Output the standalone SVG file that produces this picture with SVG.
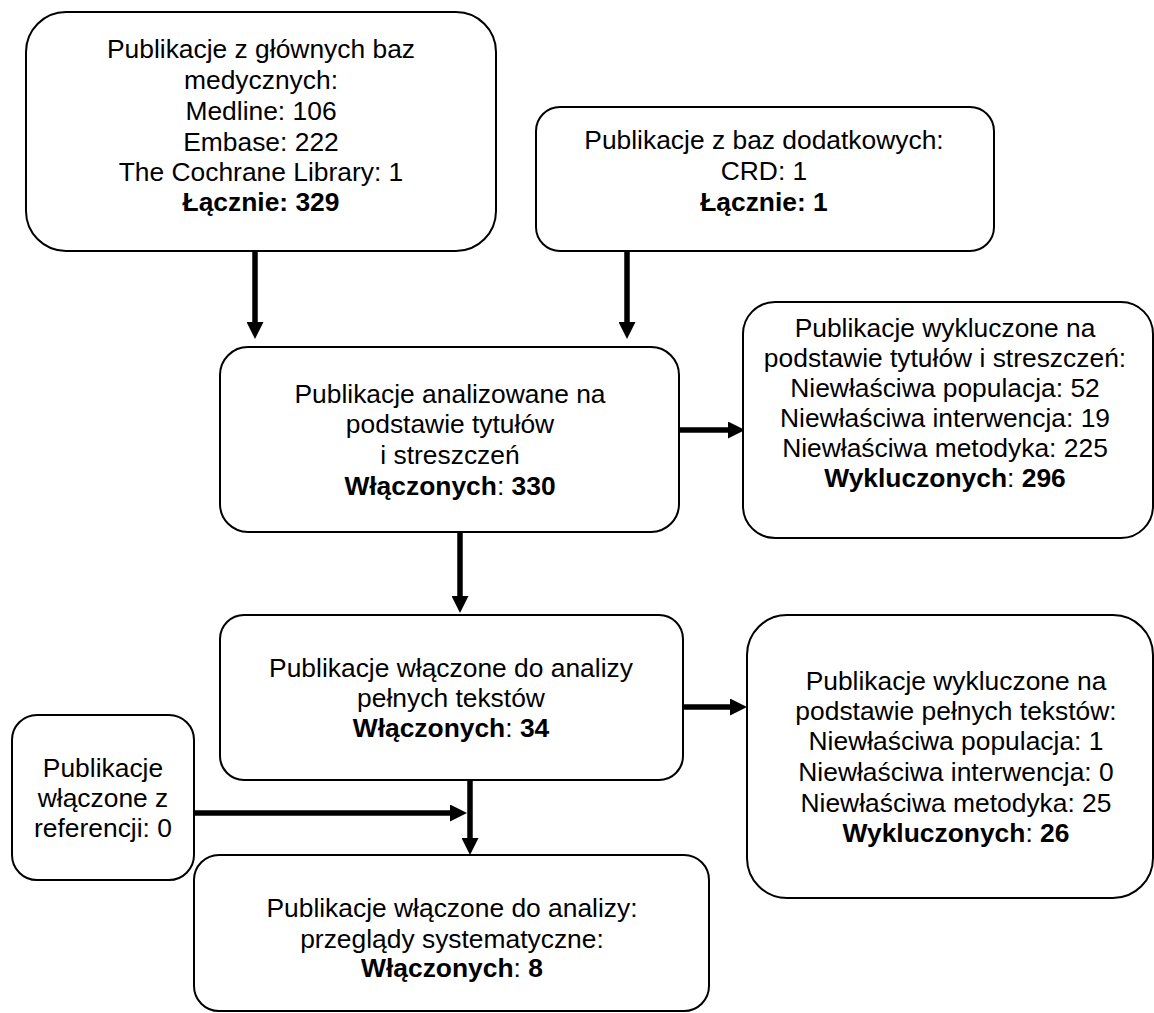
<svg xmlns="http://www.w3.org/2000/svg" width="1154" height="1013" viewBox="0 0 1154 1013">
<style>
.box{fill:#fff;stroke:#000;stroke-width:2}
.t{font-family:"Liberation Sans",Arial,sans-serif;font-size:26.4px;fill:#000;text-anchor:middle}
.b{font-weight:bold}
.c{stroke:#000;stroke-width:5.5;fill:none;marker-end:url(#ah)}
</style>
<defs>
<marker id="ah" markerUnits="userSpaceOnUse" viewBox="0 0 17 17" refX="5" refY="8.5" markerWidth="17" markerHeight="17" orient="auto">
<path d="M0,0 L17,8.5 L0,17 z" fill="#000"/>
</marker>
</defs>
<rect width="1154" height="1013" fill="#fff"/>
<g id="connectors">
<line class="c" x1="255" y1="251" x2="255" y2="327"/>
<line class="c" x1="627" y1="251" x2="627" y2="327"/>
<line class="c" x1="679" y1="430" x2="733" y2="430"/>
<line class="c" x1="460" y1="532" x2="460" y2="601"/>
<line class="c" x1="683" y1="707" x2="735" y2="707"/>
<line class="c" x1="194" y1="813" x2="455" y2="813"/>
<line class="c" x1="470" y1="780" x2="470" y2="843"/>
</g>
<g id="n1">
<rect class="box" x="26" y="12" width="470" height="239" rx="40" ry="40"/>
<text class="t" x="261" y="58">Publikacje z głównych baz</text>
<text class="t" x="261" y="89">medycznych:</text>
<text class="t" x="261" y="120">Medline: 106</text>
<text class="t" x="261" y="151">Embase: 222</text>
<text class="t" x="261" y="181">The Cochrane Library: 1</text>
<text class="t b" x="261" y="211">Łącznie: 329</text>
</g>
<g id="n2">
<rect class="box" x="536" y="107" width="458" height="144" rx="24" ry="24"/>
<text class="t" x="764" y="149">Publikacje z baz dodatkowych:</text>
<text class="t" x="764" y="180">CRD: 1</text>
<text class="t b" x="764" y="211">Łącznie: 1</text>
</g>
<g id="n3">
<rect class="box" x="220" y="347" width="459" height="185" rx="28" ry="28"/>
<text class="t" x="450" y="403">Publikacje analizowane na</text>
<text class="t" x="450" y="433">podstawie tytułów</text>
<text class="t" x="450" y="464">i streszczeń</text>
<text class="t" x="450" y="495"><tspan class="b">Włączonych</tspan>: <tspan class="b">330</tspan></text>
</g>
<g id="n4">
<rect class="box" x="743" y="302" width="410" height="236" rx="32" ry="32"/>
<text class="t" x="945" y="337">Publikacje wykluczone na</text>
<text class="t" x="945" y="367">podstawie tytułów i streszczeń:</text>
<text class="t" x="945" y="397">Niewłaściwa populacja: 52</text>
<text class="t" x="945" y="427">Niewłaściwa interwencja: 19</text>
<text class="t" x="945" y="457">Niewłaściwa metodyka: 225</text>
<text class="t" x="945" y="487"><tspan class="b">Wykluczonych</tspan>: <tspan class="b">296</tspan></text>
</g>
<g id="n5">
<rect class="box" x="220" y="615" width="463" height="165" rx="24" ry="24"/>
<text class="t" x="451" y="677">Publikacje włączone do analizy</text>
<text class="t" x="451" y="707">pełnych tekstów</text>
<text class="t" x="451" y="737"><tspan class="b">Włączonych</tspan>: <tspan class="b">34</tspan></text>
</g>
<g id="n6">
<rect class="box" x="747" y="615" width="406" height="283" rx="40" ry="40"/>
<text class="t" x="956" y="690">Publikacje wykluczone na</text>
<text class="t" x="956" y="720">podstawie pełnych tekstów:</text>
<text class="t" x="956" y="750">Niewłaściwa populacja: 1</text>
<text class="t" x="956" y="781">Niewłaściwa interwencja: 0</text>
<text class="t" x="956" y="812">Niewłaściwa metodyka: 25</text>
<text class="t" x="956" y="842"><tspan class="b">Wykluczonych</tspan>: <tspan class="b">26</tspan></text>
</g>
<g id="n7">
<rect class="box" x="12" y="715" width="182" height="165" rx="25" ry="25"/>
<text class="t" x="103" y="777">Publikacje</text>
<text class="t" x="103" y="807">włączone z</text>
<text class="t" x="103" y="837">referencji: 0</text>
</g>
<g id="n8">
<rect class="box" x="194" y="855" width="515" height="156" rx="25" ry="25"/>
<text class="t" x="452" y="917">Publikacje włączone do analizy:</text>
<text class="t" x="452" y="948">przeglądy systematyczne:</text>
<text class="t" x="452" y="977"><tspan class="b">Włączonych</tspan>: <tspan class="b">8</tspan></text>
</g>
</svg>
